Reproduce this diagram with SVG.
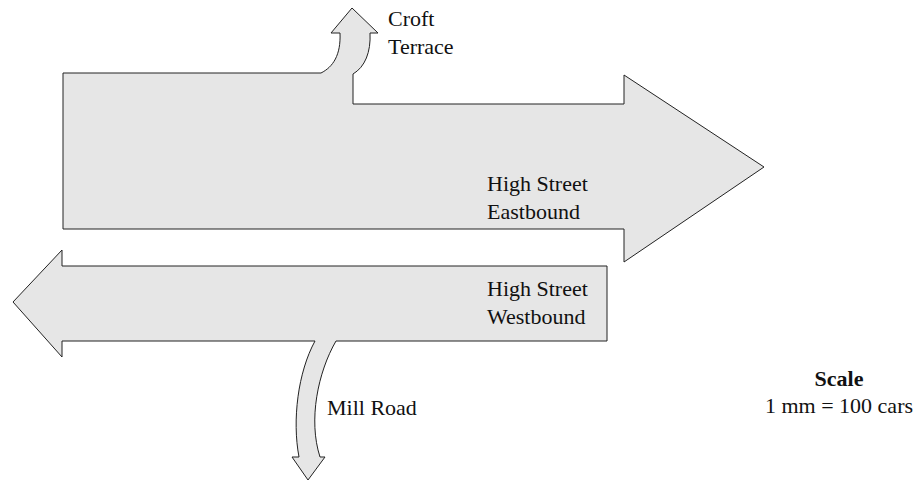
<svg xmlns="http://www.w3.org/2000/svg" width="919" height="481" viewBox="0 0 919 481">
<style>
.flow{fill:#e6e6e6;stroke:#222;stroke-width:1;stroke-linejoin:miter}
.lbl{font-family:'Liberation Serif','DejaVu Serif',serif;font-size:22px;fill:#111}
.b{font-weight:bold}
</style>
<rect width="919" height="481" fill="#fff"/>
<g id="connectors">
<path id="eastbound-flow" class="flow" d="M63,73 L321,73 C333,67 341,55 340,33 L331,33 L352,8 L378,33 L370,33 C371,52 365,67 353,74 L353,104 L624,104 L624,75 L764,167 L624,262 L624,229 L63,229 Z"/>
<path id="westbound-flow" class="flow" d="M607,266 L62,266 L62,250 L13,302 L62,357 L62,341 L315,341 C298,372 292,420 299,457 L292,457 L308,480 L325,457 L320,457 C308,420 318,372 336,341 L607,341 Z"/>
</g>
<g id="node-croft-terrace">
<text class="lbl" x="388" y="26">Croft</text>
<text class="lbl" x="388" y="54">Terrace</text>
</g>
<g id="node-high-street-eastbound">
<text class="lbl" x="487" y="191">High Street</text>
<text class="lbl" x="487" y="219">Eastbound</text>
</g>
<g id="node-high-street-westbound">
<text class="lbl" x="487" y="296">High Street</text>
<text class="lbl" x="487" y="324">Westbound</text>
</g>
<g id="node-mill-road">
<text class="lbl" x="327" y="415">Mill Road</text>
</g>
<g id="scale">
<text class="lbl b" x="839" y="386" text-anchor="middle">Scale</text>
<text class="lbl" x="839" y="413" text-anchor="middle">1 mm = 100 cars</text>
</g>
</svg>
